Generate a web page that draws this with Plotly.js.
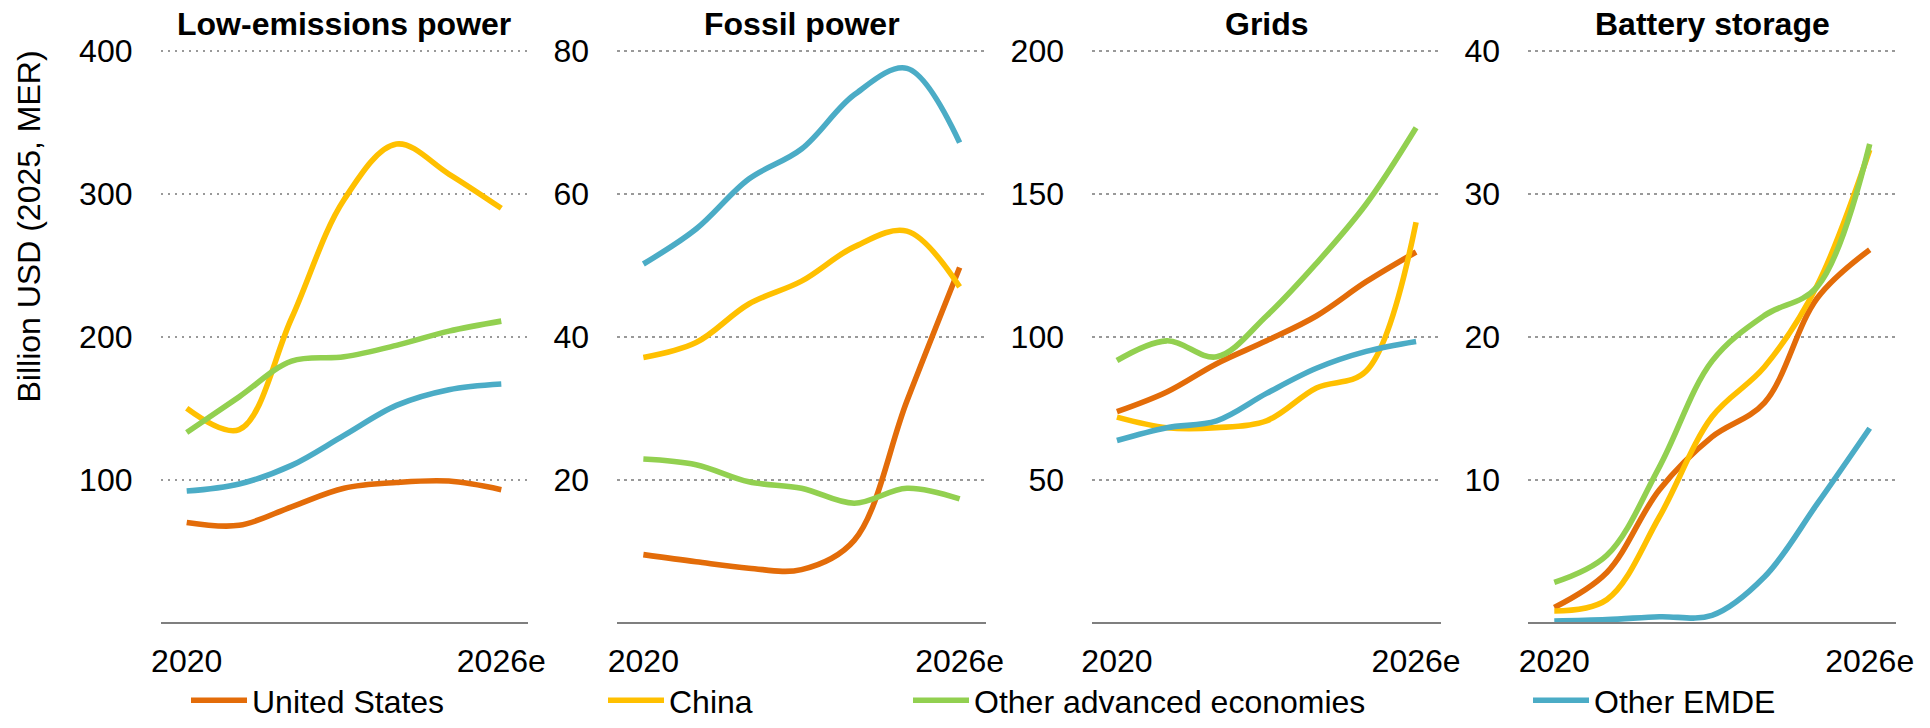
<!DOCTYPE html>
<html>
<head>
<meta charset="utf-8">
<script src="https://cdn.plot.ly/plotly-3.0.1.min.js"></script>
<style>html,body{margin:0;padding:0;background:#fff;}#chart{width:1930px;height:728px;}</style>
</head>
<body>
<div id="chart"></div>
<script>
// ---- Data ----
const years = [2020, 2021, 2022, 2023, 2024, 2025, 2026];
const tickYears = [2020, 2026];
const tickLabels = ['2020', '2026e'];

const panelTitles = ['Low-emissions power', 'Fossil power', 'Grids', 'Battery storage'];
const seriesNames = ['United States', 'China', 'Other advanced economies', 'Other EMDE'];
const seriesColors = ['#E36C09', '#FFC000', '#92D050', '#4BACC6'];

// Low-emissions power
const lowUS    = [70, 68, 81, 94, 98, 99, 93];
const lowChina = [150, 135, 213, 296, 335, 314, 290];
const lowOAE   = [133, 158, 183, 186, 194, 204, 211];
const lowEMDE  = [92, 97, 110, 131, 152, 163, 167];

// Fossil power
const fosUS    = [9.5, 8.5, 7.6, 7.4, 11.5, 31, 49.7];
const fosChina = [37.1, 39.2, 44.6, 47.8, 52.6, 54.8, 47];
const fosOAE   = [22.9, 22.1, 19.7, 18.8, 16.7, 18.8, 17.3];
const fosEMDE  = [50.2, 55.1, 62.1, 66.3, 73.9, 77.6, 67.2];

// Grids
const gridUS    = [73.8, 80.7, 90.6, 98.6, 107.3, 119.3, 129.7];
const gridChina = [71.9, 68.2, 68.2, 70.6, 82.1, 88, 140.1];
const gridOAE   = [91.7, 98.6, 93, 107.3, 125.7, 146.5, 173.2];
const gridEMDE  = [63.7, 68.2, 70.6, 80.2, 89, 94.9, 98.4];

// Battery storage
const batUS    = [1.05, 3.5, 9.3, 13, 15.4, 22.7, 26.1];
const batChina = [0.8, 1.6, 7.4, 14.4, 17.9, 23.6, 33.1];
const batOAE   = [2.8, 4.7, 10.9, 18.3, 21.5, 23.5, 33.5];
const batEMDE  = [0.1, 0.2, 0.4, 0.5, 3.2, 8.3, 13.6];

const yMax = [400, 80, 200, 40];
const yTicks = [[100, 200, 300, 400], [20, 40, 60, 80], [50, 100, 150, 200], [10, 20, 30, 40]];
const yLabel = 'Billion USD (2025, MER)';

// ---- Build ----
const panels = [
  [lowUS, lowChina, lowOAE, lowEMDE],
  [fosUS, fosChina, fosOAE, fosEMDE],
  [gridUS, gridChina, gridOAE, gridEMDE],
  [batUS, batChina, batOAE, batEMDE]
];

const W = 1930, H = 728;
const FONT = 'Arial, "Liberation Sans", sans-serif';
const FS = 32;
const xDomPx = [[160.5, 527.5], [617, 986], [1092, 1441], [1528, 1896]];
const yZeroPx = 632, yTopPx = 52;
const pad = 1.01;
const yDom = [1 - yZeroPx / H, 1 - (yZeroPx - (yZeroPx - yTopPx) * pad) / H];
const legendX = [191, 608, 913, 1533];
const legendIds = ['legend', 'legend2', 'legend3', 'legend4'];

const traces = [];
panels.forEach((series, p) => {
  const sfx = p === 0 ? '' : String(p + 1);
  series.forEach((vals, s) => {
    traces.push({
      type: 'scatter', mode: 'lines',
      x: years, y: vals,
      name: seriesNames[s],
      xaxis: 'x' + sfx, yaxis: 'y' + sfx,
      line: {color: seriesColors[s], width: 5.6, shape: 'spline', smoothing: 1},
      showlegend: p === 0,
      legend: legendIds[s],
      hoverinfo: 'x+y+name'
    });
  });
});

const layout = {
  width: W, height: H,
  margin: {l: 0, r: 0, t: 0, b: 0},
  paper_bgcolor: '#fff', plot_bgcolor: '#fff',
  font: {family: FONT, size: FS, color: '#000'},
  annotations: [],
  showlegend: true
};

panels.forEach((series, p) => {
  const sfx = p === 0 ? '' : String(p + 1);
  layout['xaxis' + sfx] = {
    domain: [xDomPx[p][0] / W, xDomPx[p][1] / W],
    anchor: 'y' + sfx,
    range: [2019.5, 2026.5],
    tickvals: tickYears, ticktext: tickLabels,
    ticks: '', showgrid: false, zeroline: false,
    showline: true, linecolor: '#7F7F7F', linewidth: 1.5,
    tickfont: {family: FONT, size: FS, color: '#000'},
    ticklabelstandoff: 10,
    fixedrange: true
  };
  layout['yaxis' + sfx] = {
    domain: yDom,
    anchor: 'x' + sfx,
    range: [0, yMax[p] * pad],
    tickvals: yTicks[p],
    ticks: '', showline: false, zeroline: false,
    showgrid: true, gridcolor: '#999999', gridwidth: 2.2, griddash: '2.5px,4.5px',
    tickfont: {family: FONT, size: FS, color: '#000'},
    ticklabelstandoff: 27,
    fixedrange: true
  };
  layout.annotations.push({
    xref: 'paper', yref: 'paper',
    x: (xDomPx[p][0] + xDomPx[p][1]) / 2 / W, y: 1 - 24 / H,
    xanchor: 'center', yanchor: 'middle',
    text: '<b>' + panelTitles[p] + '</b>', showarrow: false,
    font: {family: FONT, size: FS, color: '#000'}
  });
});

layout.annotations.push({
  xref: 'paper', yref: 'paper',
  x: 29 / W, y: 1 - 230 / H,
  xanchor: 'center', yanchor: 'middle',
  text: yLabel, textangle: -90, showarrow: false,
  font: {family: FONT, size: FS, color: '#000'}
});

legendIds.forEach((id, i) => {
  layout[id] = {
    orientation: 'h',
    x: (legendX[i] - 5) / W, xanchor: 'left',
    y: 1 - 711.7 / H, yanchor: 'middle',
    font: {family: FONT, size: FS, color: '#000'},
    bgcolor: 'rgba(0,0,0,0)', borderwidth: 0,
    itemwidth: 56,
    tracegroupgap: 0
  };
});

Plotly.newPlot('chart', traces, layout, {displayModeBar: false, staticPlot: true});
</script>
</body>
</html>
